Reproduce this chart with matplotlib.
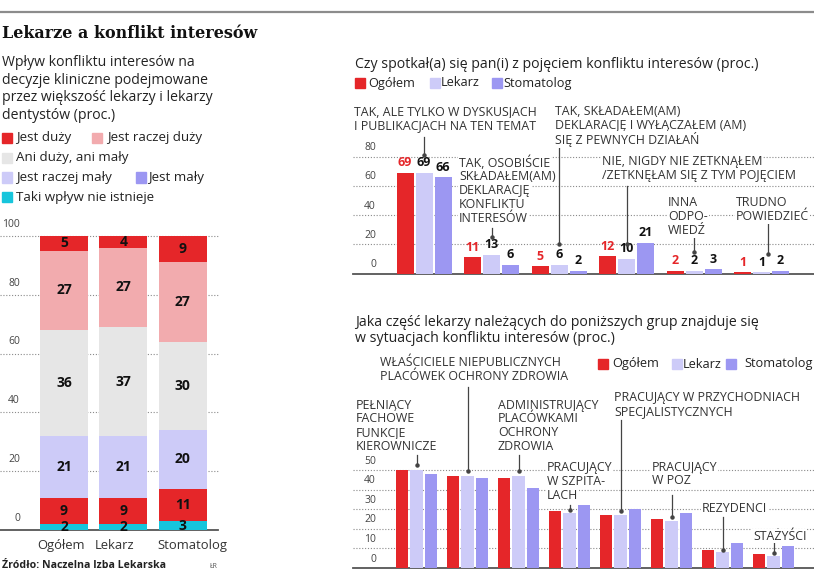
import numpy as np
import matplotlib
matplotlib.use("Agg")
import matplotlib.pyplot as plt
from matplotlib.patches import Rectangle

plt.rcParams["font.family"] = ["Open Sans", "DejaVu Sans"]

# ---------------------------------------------------------------------------
# Data
# ---------------------------------------------------------------------------

# Left: stacked bars, bottom -> top
groups_left = ["Ogółem", "Lekarz", "Stomatolog"]
nie_istnieje = [2, 2, 3]
jest_maly = [9, 9, 11]
raczej_maly = [21, 21, 20]
ani_ani = [36, 37, 30]
raczej_duzy = [27, 27, 27]
jest_duzy = [5, 4, 9]
left_ticks = [0, 20, 40, 60, 80, 100]

# Top right: "Czy spotkał(a) się pan(i) z pojęciem konfliktu interesów"
top_ogolem = [69, 11, 5, 12, 2, 1]
top_lekarz = [69, 13, 6, 10, 2, 1]
top_stomatolog = [66, 6, 2, 21, 3, 2]
top_ticks = [0, 20, 40, 60, 80]

# Bottom right: groups in conflict-of-interest situations
bot_ogolem = [50, 47, 46, 29, 27, 25, 9, 7]
bot_lekarz = [50, 47, 47, 28, 27, 24, 8, 6]
bot_stomatolog = [48, 46, 41, 32, 30, 28, 13, 11]
bot_ticks = [0, 10, 20, 30, 40, 50]

# ---------------------------------------------------------------------------
# Style
# ---------------------------------------------------------------------------
RED = "#e52629"
PINK = "#f2abae"
GREY = "#e6e6e6"
LAV = "#cdcbf8"
PURPLE = "#9c97f2"
CYAN = "#17c5dc"
TXT = "#222222"
GRID = "#8a8a8a"
CAPS_FS = 8.9

W, H = 814, 570
fig = plt.figure(figsize=(W / 100, H / 100), dpi=100)


def fx(x):
    return x / W


def fy(y):
    return 1 - y / H


def axes_px(left, right, top, bottom):
    ax = fig.add_axes([left / W, 1 - bottom / H, (right - left) / W, (bottom - top) / H])
    ax.set_axis_off()
    return ax


def ftext(x, y, s, **kw):
    kw.setdefault("color", TXT)
    kw.setdefault("va", "center")
    return fig.text(fx(x), fy(y), s, **kw)


def grid(ax, ticks, label_x, label_dy, fs=7.5):
    for v in ticks:
        if v == 0:
            ax.axhline(0, color="#555555", lw=1.3, zorder=1, clip_on=False)
        else:
            ax.axhline(v, color=GRID, lw=0.8, ls=(0, (1, 1.6)), zorder=0, clip_on=False)
        ax.annotate(str(v), xy=(label_x, v), xycoords=ax.get_yaxis_transform(),
                    xytext=(0, label_dy), textcoords="offset points",
                    ha="right", va="bottom", fontsize=fs, color="#444444")


def legend_row(y, items, fs=9):
    for sx, tx, color, label in items:
        fig.patches.append(Rectangle((fx(sx), fy(y + 5)), 10 / W, 10 / H,
                                     transform=fig.transFigure, color=color))
        ftext(tx, y, label, fontsize=fs)


def caps_block(x, y, lines, fs=CAPS_FS, step=13.8):
    for k, line in enumerate(lines):
        ftext(x, y + k * step, line, fontsize=fs, color="#333333",
              bbox=dict(facecolor="white", edgecolor="none", pad=0.6))


def leader(ax, xi, y_top, y_bot):
    ax.plot([xi, xi], [y_top, y_bot], color="#444444", lw=0.9, clip_on=False, zorder=4)
    ax.plot([xi], [y_bot], marker="o", ms=2.2, color="#444444", clip_on=False, zorder=4)


# ---------------------------------------------------------------------------
# Header
# ---------------------------------------------------------------------------
fig.lines.append(plt.Line2D([0, 1], [fy(11.5), fy(11.5)], transform=fig.transFigure,
                            color="#8c8c8c", lw=1.6))
ftext(2, 33, "Lekarze a konflikt interesów", fontsize=11.5, fontweight="bold",
      family="DejaVu Serif", color="#111111")

for k, line in enumerate(["Wpływ konfliktu interesów na",
                          "decyzje kliniczne podejmowane",
                          "przez większość lekarzy i lekarzy",
                          "dentystów (proc.)"]):
    ftext(2, 63 + k * 17.4, line, fontsize=10.1)

legend_row(138, [(2, 16, RED, "Jest duży"), (92, 107, PINK, "Jest raczej duży")], fs=9.6)
legend_row(157.5, [(2, 16, GREY, "Ani duży, ani mały")], fs=9.6)
legend_row(177.5, [(2, 16, LAV, "Jest raczej mały"), (136, 148, PURPLE, "Jest mały")], fs=9.6)
legend_row(197, [(2, 16, CYAN, "Taki wpływ nie istnieje")], fs=9.6)

# ---------------------------------------------------------------------------
# Left stacked chart
# ---------------------------------------------------------------------------
step_l = 59.3
ax_l = axes_px(0, 218, 236, 530)
ax_l.set_ylim(0, 100)
ax_l.set_xlim(-64 / step_l, (218 - 64) / step_l)
grid(ax_l, left_ticks, 20 / 218, 4.5)

xl = np.arange(len(groups_left))
bottom = np.zeros(len(groups_left))
for vals, color in [(nie_istnieje, CYAN), (jest_maly, RED), (raczej_maly, LAV),
                    (ani_ani, GREY), (raczej_duzy, PINK), (jest_duzy, RED)]:
    vals = np.array(vals)
    ax_l.bar(xl, vals, bottom=bottom, width=48 / step_l, color=color, zorder=2)
    for xi, b, v in zip(xl, bottom, vals):
        ax_l.text(xi, b + v / 2, str(v), ha="center", va="center", fontsize=10,
                  fontweight="bold", color="#111111", zorder=3)
    bottom += vals
for xi, name, shift in zip(xl, groups_left, [-2, -6, 7]):
    ax_l.annotate(name, xy=(xi, 0), xytext=(shift, -11), textcoords="offset points",
                  ha="center", va="center", fontsize=9.4, color="#333333")

ftext(2, 566, "Źródło: Naczelna Izba Lekarska", fontsize=7.6, fontweight="bold")
ftext(210, 566, "ŁR", fontsize=5, color="#555555")

# ---------------------------------------------------------------------------
# Top right chart
# ---------------------------------------------------------------------------
ftext(355, 65, "Czy spotkał(a) się pan(i) z pojęciem konfliktu interesów (proc.)", fontsize=10.2)
legend_row(83, [(355, 368, RED, "Ogółem"), (430, 441, LAV, "Lekarz"),
                (492, 503, PURPLE, "Stomatolog")], fs=9.2)

step_t = 67.5
ax_t = axes_px(353, 814, 156.7, 273.5)
ax_t.set_ylim(0, 80)
ax_t.set_xlim((353 - 424) / step_t, (814 - 424) / step_t)
grid(ax_t, top_ticks, (376 - 353) / 461, 2.5)

xt = np.arange(len(top_ogolem))
off_t, bw_t = 19 / step_t, 17 / step_t
for vals, dx, color, tcol in [(top_ogolem, -off_t, RED, RED), (top_lekarz, 0, LAV, "#111111"),
                              (top_stomatolog, off_t, PURPLE, "#111111")]:
    ax_t.bar(xt + dx, vals, width=bw_t, color=color, zorder=2)
    for xi, v in zip(xt, vals):
        ax_t.annotate(str(v), xy=(xi + dx, v), xytext=(0, 2.5), textcoords="offset points",
                      ha="center", va="bottom", fontsize=9, fontweight="bold", color=tcol)

caps_block(354, 112, ["TAK, ALE TYLKO W DYSKUSJACH", "I PUBLIKACJACH NA TEN TEMAT"])
caps_block(459, 163, ["TAK, OSOBIŚCIE", "SKŁADAŁEM(AM)", "DEKLARACJĘ", "KONFLIKTU", "INTERESÓW"])
caps_block(555, 112, ["TAK, SKŁADAŁEM(AM)", "DEKLARACJĘ I WYŁĄCZAŁEM (AM)", "SIĘ Z PEWNYCH DZIAŁAŃ"])
caps_block(602, 162, ["NIE, NIGDY NIE ZETKNĄŁEM", "/ZETKNĘŁAM SIĘ Z TYM POJĘCIEM"])
caps_block(668, 203, ["INNA", "ODPO-", "WIEDŹ"])
caps_block(736, 203, ["TRUDNO", "POWIEDZIEĆ"])

for xi, y1, y2 in [(0, 93.8, 81.5), (1, 31.5, 25.3), (2, 87, 20), (3, 59.6, 20.5),
                   (4, 28, 15), (5.1, 35.6, 13.5)]:
    leader(ax_t, xi, y1, y2)

# ---------------------------------------------------------------------------
# Bottom right chart
# ---------------------------------------------------------------------------
ftext(355, 323, "Jaka część lekarzy należących do poniższych grup znajduje się", fontsize=10.2)
ftext(355, 338, "w sytuacjach konfliktu interesów (proc.)", fontsize=10.2)
legend_row(364, [(598, 612, RED, "Ogółem"), (672, 683, LAV, "Lekarz"),
                 (726, 744, PURPLE, "Stomatolog")], fs=9.2)

step_b = 51
ax_b = axes_px(353, 814, 470, 568)
ax_b.set_ylim(0, 50)
ax_b.set_xlim((353 - 416.5) / step_b, (814 - 416.5) / step_b)
grid(ax_b, bot_ticks, (376 - 353) / 461, 2.5)

xb = np.arange(len(bot_ogolem))
off_b, bw_b = 14.5 / step_b, 12.5 / step_b
for vals, dx, color in [(bot_ogolem, -off_b, RED), (bot_lekarz, 0, LAV),
                        (bot_stomatolog, off_b, PURPLE)]:
    ax_b.bar(xb + dx, vals, width=bw_b, color=color, zorder=2)

caps_block(356, 405, ["PEŁNIĄCY", "FACHOWE", "FUNKCJE", "KIEROWNICZE"])
caps_block(380, 363, ["WŁAŚCICIELE NIEPUBLICZNYCH", "PLACÓWEK OCHRONY ZDROWIA"])
caps_block(498, 405, ["ADMINISTRUJĄCY", "PLACÓWKAMI", "OCHRONY", "ZDROWIA"])
caps_block(547, 468, ["PRACUJĄCY", "W SZPITA-", "LACH"])
caps_block(614, 398, ["PRACUJĄCY W PRZYCHODNIACH", "SPECJALISTYCZNYCH"])
caps_block(652, 467, ["PRACUJĄCY", "W POZ"])
caps_block(702, 508, ["REZYDENCI"])
caps_block(753, 536, ["STAŻYŚCI"])

for xi, y1, y2 in [(0, 57.7, 52.5), (1, 92.3, 49.5), (2, 57.7, 49.5), (3, 32, 29.8),
                   (4, 75.5, 29), (5, 37, 26), (6, 26, 9), (7, 12.8, 7.5)]:
    leader(ax_b, xi, y1, y2)

fig.savefig("out.png", dpi=100)
